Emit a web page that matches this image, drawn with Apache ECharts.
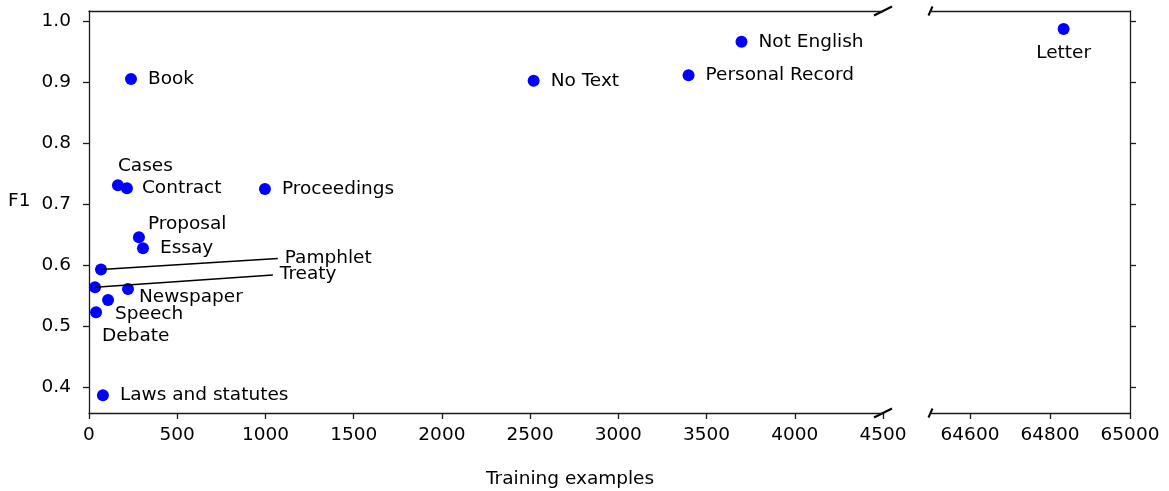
<!DOCTYPE html>
<html>
<head>
<meta charset="utf-8">
<script src="https://cdn.jsdelivr.net/npm/echarts@6/dist/echarts.min.js"></script>
<style>
  html, body { margin: 0; padding: 0; background: #fff; }
  #chart { width: 1169px; height: 491px; }
</style>
</head>
<body>
<div id="chart"></div>
<script>
// data
const names = ['Book', 'Cases', 'Contract', 'Proceedings', 'Proposal', 'Essay', 'Pamphlet', 'Treaty',
  'Newspaper', 'Speech', 'Debate', 'Laws and statutes', 'No Text', 'Personal Record', 'Not English', 'Letter'];
const trainExamples = [238, 164, 215, 997, 283, 306, 68, 34, 221, 108, 40, 79, 2520, 3398, 3698, 64834];
const f1 = [0.905, 0.731, 0.726, 0.725, 0.646, 0.628, 0.593, 0.564, 0.561, 0.543, 0.523, 0.387, 0.902, 0.911, 0.966, 0.987];

const yTicks = [0.4, 0.5, 0.6, 0.7, 0.8, 0.9, 1.0];
const xTicksRight = [64600, 64800, 65000];

// labels pulled away from the crowded corner (text position in data units)
const annotated = ['Pamphlet', 'Treaty'];
const annoTextX = [1070, 1042];
const annoTextY = [0.611, 0.584];

const FONT = 'DejaVu Sans';
const FS = 18.5;
const INK = '#1a1a1a';

// offset of the label from the marker centre, in px [dx, dy]
const labelOffset = {
  'Cases': [0, -19],
  'Contract': [15, 0],
  'Proposal': [9, -13],
  'Newspaper': [11, 8],
  'Speech': [7, 14],
  'Debate': [6, 24],
  'Letter': [0, 24]
};

const SYM = 12;

function makeItem(i) {
  const n = names[i];
  const off = labelOffset[n] || [17, 0];
  return {
    name: n,
    value: [trainExamples[i], f1[i]],
    label: {
      show: annotated.indexOf(n) < 0,
      position: [off[0] + SYM / 2, off[1] + SYM / 2],
      align: n === 'Letter' ? 'center' : 'left',
      verticalAlign: 'middle',
      formatter: '{b}',
      color: '#000',
      fontFamily: FONT,
      fontSize: FS
    }
  };
}

const leftData = [];
const rightData = [];
for (let i = 0; i < names.length; i++) {
  if (trainExamples[i] >= 64500) rightData.push(makeItem(i));
  else leftData.push(makeItem(i));
}

const annoLines = annotated.map((n, k) => {
  const i = names.indexOf(n);
  return [
    { coord: [trainExamples[i], f1[i]] },
    { name: n, coord: [annoTextX[k], annoTextY[k]] }
  ];
});

const yMin = 0.358, yMax = 1.0164;

const lineStyle = { color: INK, width: 1.3 };
const tickStyle = { show: true, inside: false, length: 6, lineStyle: { color: INK, width: 1.3 } };
const labelStyle = { color: '#000', fontFamily: FONT, fontSize: FS, formatter: v => String(v) };

var option = {
  animation: false,
  grid: [
    { left: 89, top: 11, width: 794, height: 402 },
    { left: 930, top: 11, width: 200, height: 402 }
  ],
  xAxis: [
    {
      gridIndex: 0, type: 'value', min: 0, max: 4500, interval: 500, position: 'bottom',
      axisLine: { onZero: false, lineStyle: lineStyle },
      axisTick: tickStyle,
      axisLabel: Object.assign({}, labelStyle, { margin: 13 }),
      splitLine: { show: false }
    },
    {
      gridIndex: 0, type: 'value', min: 0, max: 4500, position: 'top',
      axisLine: { onZero: false, lineStyle: lineStyle },
      axisTick: { show: false }, axisLabel: { show: false }, splitLine: { show: false }
    },
    {
      gridIndex: 1, type: 'value', min: 64500, max: 65000, position: 'bottom',
      axisLine: { onZero: false, lineStyle: lineStyle },
      axisTick: Object.assign({ customValues: xTicksRight }, tickStyle),
      axisLabel: Object.assign({}, labelStyle, { margin: 13, customValues: xTicksRight, showMinLabel: true, showMaxLabel: true }),
      splitLine: { show: false }
    },
    {
      gridIndex: 1, type: 'value', min: 64500, max: 65000, position: 'top',
      axisLine: { onZero: false, lineStyle: lineStyle },
      axisTick: { show: false }, axisLabel: { show: false }, splitLine: { show: false }
    }
  ],
  yAxis: [
    {
      gridIndex: 0, type: 'value', min: yMin, max: yMax, position: 'left',
      axisLine: { show: true, onZero: false, lineStyle: lineStyle },
      axisTick: Object.assign({ customValues: yTicks }, tickStyle),
      axisLabel: Object.assign({}, labelStyle, {
        margin: 18, customValues: yTicks,
        formatter: v => v.toFixed(1)
      }),
      splitLine: { show: false }
    },
    {
      gridIndex: 1, type: 'value', min: yMin, max: yMax, position: 'right',
      axisLine: { show: true, onZero: false, lineStyle: lineStyle },
      axisTick: Object.assign({ customValues: yTicks }, tickStyle),
      axisLabel: { show: false },
      splitLine: { show: false }
    }
  ],
  series: [
    {
      type: 'scatter', xAxisIndex: 0, yAxisIndex: 0,
      symbol: 'circle', symbolSize: SYM,
      itemStyle: { color: '#0000ff', opacity: 1 },
      data: leftData,
      markLine: {
        silent: true, animation: false,
        symbol: ['none', 'none'],
        lineStyle: { color: '#000', width: 1.5, type: 'solid' },
        label: { show: true, position: 'end', distance: 7, formatter: '{b}', color: '#000', fontFamily: FONT, fontSize: FS },
        emphasis: { disabled: true },
        data: annoLines
      }
    },
    {
      type: 'scatter', xAxisIndex: 2, yAxisIndex: 1,
      symbol: 'circle', symbolSize: SYM,
      itemStyle: { color: '#0000ff', opacity: 1 },
      data: rightData
    }
  ],
  graphic: [
    { type: 'text', left: 8, top: 192, style: { text: 'F1', fill: '#000', font: FS + 'px "DejaVu Sans"' } },
    { type: 'text', left: 486, top: 470, style: { text: 'Training examples', fill: '#000', font: FS + 'px "DejaVu Sans"' } },
    // axis break marks
    { type: 'line', shape: { x1: 874, y1: 15.5, x2: 892, y2: 6.5 }, style: { stroke: '#000', lineWidth: 2 } },
    { type: 'line', shape: { x1: 874, y1: 417.5, x2: 892, y2: 408.5 }, style: { stroke: '#000', lineWidth: 2 } },
    { type: 'line', shape: { x1: 928.5, y1: 15.5, x2: 932.5, y2: 6.5 }, style: { stroke: '#000', lineWidth: 2 } },
    { type: 'line', shape: { x1: 928.5, y1: 417.5, x2: 932.5, y2: 408.5 }, style: { stroke: '#000', lineWidth: 2 } }
  ]
};

const chartInstance = echarts.init(document.getElementById('chart'));
chartInstance.setOption(option);
</script>
</body>
</html>
